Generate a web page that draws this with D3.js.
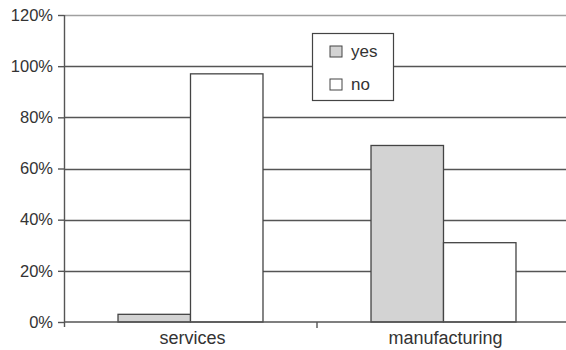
<!DOCTYPE html>
<html>
<head>
<meta charset="utf-8">
<script src="https://cdn.jsdelivr.net/npm/d3@7"></script>
<style>
  html, body { margin: 0; padding: 0; background: #fff; }
  svg { display: block; font-family: "Liberation Sans", Arial, Helvetica, sans-serif; }
</style>
</head>
<body>
<svg id="chart" width="566" height="350"></svg>
<script>
// Share of firms by sector
const categories = ["services", "manufacturing"];
const seriesNames = ["yes", "no"];
const yesValues = [3, 69];
const noValues = [97, 31];
const yTicks = [0, 20, 40, 60, 80, 100, 120];

const seriesColors = { yes: "#d3d3d3", no: "#ffffff" };

const svg = d3.select("#chart");
const margin = { left: 64, right: -4, top: 15, bottom: 28 };
const W = 566, H = 350;

const x0 = d3.scaleBand()
  .domain(categories)
  .range([margin.left, W - margin.right])
  .paddingInner(0)
  .paddingOuter(0);

const x1 = d3.scaleBand()
  .domain(seriesNames)
  .range([0, x0.bandwidth()])
  .paddingInner(0)
  .paddingOuter(0.745);

const y = d3.scaleLinear()
  .domain([0, 120])
  .range([H - margin.bottom, margin.top]);

// Horizontal gridlines
svg.append("g")
  .selectAll("line")
  .data(yTicks.filter(d => d > 0))
  .join("line")
  .attr("x1", margin.left)
  .attr("x2", W)
  .attr("y1", d => Math.round(y(d)) + 0.5)
  .attr("y2", d => Math.round(y(d)) + 0.5)
  .attr("stroke", d => d === 120 ? "#a0a0a0" : "#555")
  .attr("stroke-width", 1.4);

// Bars
const table = categories.map((c, i) => ({
  category: c,
  values: [
    { key: "yes", value: yesValues[i] },
    { key: "no", value: noValues[i] }
  ]
}));

svg.append("g")
  .selectAll("g")
  .data(table)
  .join("g")
  .attr("transform", d => `translate(${x0(d.category)},0)`)
  .selectAll("rect")
  .data(d => d.values)
  .join("rect")
  .attr("x", d => x1(d.key))
  .attr("y", d => y(d.value))
  .attr("width", x1.bandwidth())
  .attr("height", d => y(0) - y(d.value))
  .attr("fill", d => seriesColors[d.key])
  .attr("stroke", "#444")
  .attr("stroke-width", 1.3);

// Y axis
const yAxis = d3.axisLeft(y)
  .tickValues(yTicks)
  .tickFormat(d => d + "%")
  .tickSize(6)
  .tickPadding(5);

const gy = svg.append("g")
  .attr("transform", `translate(${margin.left},0)`)
  .call(yAxis);
gy.select(".domain").remove();
gy.selectAll(".tick line").attr("stroke", "#555").attr("stroke-width", 1.4);
gy.selectAll(".tick text")
  .attr("fill", "#333")
  .style("font-size", "16.5px");

// Vertical axis line
svg.append("line")
  .attr("x1", margin.left + 0.5).attr("x2", margin.left + 0.5)
  .attr("y1", margin.top).attr("y2", y(0) + 5)
  .attr("stroke", "#555").attr("stroke-width", 1.4);

// Baseline
svg.append("line")
  .attr("x1", margin.left).attr("x2", W)
  .attr("y1", y(0)).attr("y2", y(0))
  .attr("stroke", "#555").attr("stroke-width", 1.4);

// Category divider tick
svg.append("g")
  .selectAll("line")
  .data(categories.slice(1))
  .join("line")
  .attr("x1", d => x0(d)).attr("x2", d => x0(d))
  .attr("y1", y(0)).attr("y2", y(0) + 6)
  .attr("stroke", "#555").attr("stroke-width", 1.4);

// Category labels
svg.append("g")
  .selectAll("text")
  .data(categories)
  .join("text")
  .attr("x", d => x0(d) + x0.bandwidth() / 2 + 2)
  .attr("y", y(0) + 22)
  .attr("text-anchor", "middle")
  .attr("fill", "#333")
  .style("font-size", "18px")
  .text(d => d);

// Legend
const legend = svg.append("g").attr("transform", "translate(312,33)");
legend.append("rect")
  .attr("x", 0.5).attr("y", 0.5)
  .attr("width", 81).attr("height", 67)
  .attr("fill", "#fff")
  .attr("stroke", "#444")
  .attr("stroke-width", 1.2);

const items = legend.selectAll("g.item")
  .data(seriesNames)
  .join("g")
  .attr("class", "item")
  .attr("transform", (d, i) => `translate(18,${13 + i * 33})`);
items.append("rect")
  .attr("width", 12).attr("height", 11)
  .attr("fill", d => seriesColors[d])
  .attr("stroke", "#444")
  .attr("stroke-width", 1);
items.append("text")
  .attr("x", 21).attr("y", 11)
  .attr("fill", "#333")
  .style("font-size", "17px")
  .text(d => d);
</script>
</body>
</html>
